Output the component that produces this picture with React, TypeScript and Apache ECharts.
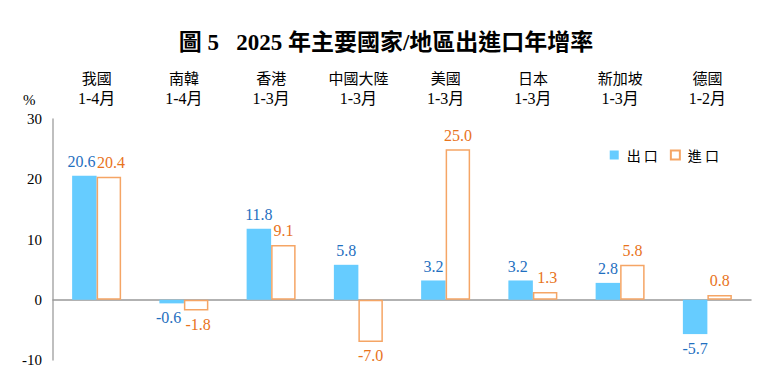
import React, { useEffect, useRef } from "react";
import * as echarts from "echarts";

const regions = ["我國", "南韓", "香港", "中國大陸", "美國", "日本", "新加坡", "德國"];
const periods = ["1-4月", "1-4月", "1-3月", "1-3月", "1-3月", "1-3月", "1-3月", "1-2月"];
const exportsGrowth = [20.6, -0.6, 11.8, 5.8, 3.2, 3.2, 2.8, -5.7];
const importsGrowth = [20.4, -1.8, 9.1, -7.0, 25.0, 1.3, 5.8, 0.8];
const yTicks = { min: -10, max: 30, interval: 10 };

const SERIF = "'Liberation Serif', 'Times New Roman', 'Noto Sans CJK TC', serif";
const CJK = "'Noto Sans CJK TC', sans-serif";

export default function App() {
  const ref = useRef<HTMLDivElement>(null);
  useEffect(() => {
    if (!ref.current) return;
    const chart = echarts.init(ref.current, undefined, { renderer: "svg" });
    const cats = regions.map((r, i) => r + "\n" + periods[i]);
    const mk = (vals: number[], other: number[], dx: number) =>
      vals.map((v, i) => ({
        value: v,
        label: {
          position: v < 0 ? "bottom" : "top",
          offset: [Math.abs(v - other[i]) < 2 ? dx : 0, 0],
        },
      }));
    chart.setOption({
      animation: false,
      backgroundColor: "#fff",
      title: {
        text: "圖 5   2025 年主要國家/地區出進口年增率",
        left: "center",
        top: 26,
        textStyle: { fontFamily: SERIF, fontWeight: "bold", fontSize: 23, color: "#000" },
      },
      graphic: [
        {
          type: "text",
          left: 23,
          top: 92,
          style: { text: "%", font: "15px " + SERIF, fill: "#000" },
        },
      ],
      legend: {
        right: 48,
        top: 143,
        itemWidth: 9,
        itemHeight: 9,
        itemGap: 12,
        textStyle: { fontFamily: CJK, fontSize: 14, color: "#000", padding: [0, 0, 0, 3] },
        formatter: (n: string) => n.split("").join(" "),
        data: [
          { name: "出口", icon: "rect" },
          { name: "進口", icon: "rect" },
        ],
      },
      grid: { left: 53, right: 21, top: 119, bottom: 31 },
      xAxis: [
        {
          type: "category",
          data: cats,
          position: "top",
          axisLine: { show: false, onZero: false },
          axisTick: { show: false },
          axisLabel: {
            interval: 0,
            margin: 10,
            formatter: (v: string) => {
              const [a, b] = v.split("\n");
              return "{a|" + a + "}\n{b|" + b + "}";
            },
            rich: {
              a: { fontFamily: CJK, fontSize: 15, color: "#000", lineHeight: 21 },
              b: { fontFamily: SERIF, fontSize: 16, color: "#000", lineHeight: 21 },
            },
          },
        },
        {
          type: "category",
          data: cats,
          position: "bottom",
          axisLine: { show: true, onZero: true, lineStyle: { color: "#999", width: 1.5 } },
          axisTick: { show: false },
          axisLabel: { show: false },
        },
      ],
      yAxis: {
        type: "value",
        min: yTicks.min,
        max: yTicks.max,
        interval: yTicks.interval,
        axisLine: { show: true, lineStyle: { color: "#aaa", width: 1.5 } },
        axisTick: { show: false },
        splitLine: { show: false },
        axisLabel: { fontFamily: SERIF, fontSize: 15, color: "#000", margin: 11 },
      },
      series: [
        {
          name: "出口",
          type: "bar",
          xAxisIndex: 0,
          data: mk(exportsGrowth, importsGrowth, -3),
          barWidth: 24.5,
          barGap: "0%",
          itemStyle: { color: "#66CCFF" },
          label: {
            show: true,
            distance: 6,
            formatter: (p: any) => p.value.toFixed(1),
            fontFamily: SERIF,
            fontSize: 16,
            color: "#1F6FC0",
          },
        },
        {
          name: "進口",
          type: "bar",
          xAxisIndex: 0,
          data: mk(importsGrowth, exportsGrowth, 2),
          barWidth: 24.5,
          barGap: "0%",
          itemStyle: { color: "#fff", borderColor: "#F5A565", borderWidth: 1.5 },
          label: {
            show: true,
            distance: 6,
            formatter: (p: any) => p.value.toFixed(1),
            fontFamily: SERIF,
            fontSize: 16,
            color: "#E8731C",
          },
        },
      ],
    });
    return () => chart.dispose();
  }, []);
  return (
    <div
      ref={ref}
      style={{ position: "fixed", left: 0, top: 0, width: 772, height: 391 }}
    />
  );
}
